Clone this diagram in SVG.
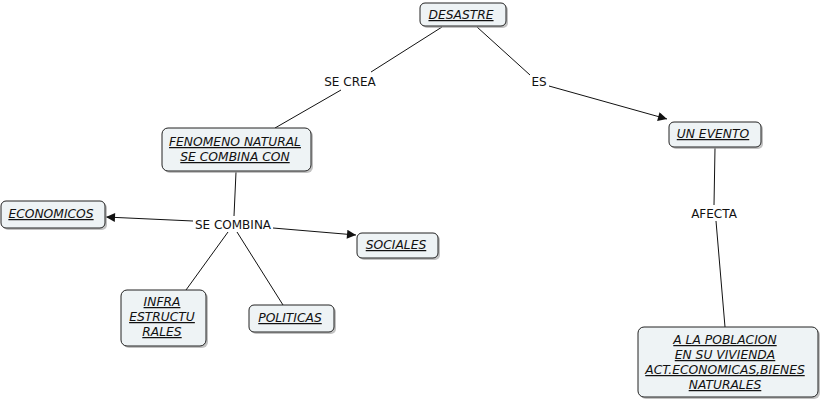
<svg xmlns="http://www.w3.org/2000/svg" width="821" height="400" viewBox="0 0 821 400">
<style>
.shadow{fill:#9a9a9a;opacity:0.6}
.box{fill:#eef3f5;stroke:#222;stroke-width:1}
.nt{font-family:"DejaVu Sans",Verdana,sans-serif;font-size:12.3px;font-style:italic;text-decoration:underline;fill:#111;text-anchor:middle}
.lt{font-family:"DejaVu Sans",Verdana,sans-serif;font-size:12px;fill:#111;text-anchor:middle}
.c{stroke:#111;stroke-width:1;fill:none}
</style>
<defs>
<marker id="ah" viewBox="0 0 10 10" refX="10" refY="5" markerWidth="11" markerHeight="9" markerUnits="userSpaceOnUse" orient="auto">
<path d="M0,0 L10,5 L0,10 z" fill="#111"/>
</marker>
</defs>
<rect width="821" height="400" fill="#fff"/>
<g id="connectors">
<line class="c" x1="442" y1="27" x2="371" y2="72"/>
<line class="c" x1="341" y1="90" x2="275" y2="128"/>
<line class="c" x1="477" y1="27" x2="530" y2="75"/>
<line class="c" x1="549" y1="86" x2="667" y2="119" marker-end="url(#ah)"/>
<line class="c" x1="715" y1="148" x2="714" y2="205"/>
<line class="c" x1="716" y1="221" x2="725" y2="327"/>
<line class="c" x1="236" y1="172" x2="234" y2="216"/>
<line class="c" x1="193" y1="221" x2="106" y2="217" marker-end="url(#ah)"/>
<line class="c" x1="273" y1="228" x2="356" y2="235" marker-end="url(#ah)"/>
<line class="c" x1="228" y1="232" x2="186" y2="290"/>
<line class="c" x1="237" y1="232" x2="283" y2="305"/>
<text class="lt" x="350" y="86">SE CREA</text>
<text class="lt" x="539" y="86">ES</text>
<text class="lt" x="714" y="218">AFECTA</text>
<text class="lt" x="233" y="229">SE COMBINA</text>
</g>
<g id="desastre">
<rect class="shadow" x="422" y="5" width="86" height="23" rx="5"/>
<rect class="box" x="420" y="3" width="86" height="23" rx="5"/>
<text class="nt" x="461" y="19">DESASTRE</text>
</g>
<g id="fenomeno">
<rect class="shadow" x="164" y="130" width="149" height="43" rx="6"/>
<rect class="box" x="162" y="128" width="149" height="43" rx="6"/>
<text class="nt" x="235" y="146">FENOMENO NATURAL</text>
<text class="nt" x="235" y="161">SE COMBINA CON</text>
</g>
<g id="unevento">
<rect class="shadow" x="671" y="124" width="92" height="25" rx="5"/>
<rect class="box" x="669" y="122" width="92" height="25" rx="5"/>
<text class="nt" x="713" y="138">UN EVENTO</text>
</g>
<g id="economicos">
<rect class="shadow" x="3" y="203" width="104" height="27" rx="5"/>
<rect class="box" x="1" y="201" width="104" height="27" rx="5"/>
<text class="nt" x="51" y="218">ECONOMICOS</text>
</g>
<g id="sociales">
<rect class="shadow" x="359" y="235" width="81" height="25" rx="5"/>
<rect class="box" x="357" y="233" width="81" height="25" rx="5"/>
<text class="nt" x="396" y="249">SOCIALES</text>
</g>
<g id="infra">
<rect class="shadow" x="123" y="292" width="85" height="56" rx="6"/>
<rect class="box" x="121" y="290" width="85" height="56" rx="6"/>
<text class="nt" x="162" y="306">INFRA</text>
<text class="nt" x="162" y="321">ESTRUCTU</text>
<text class="nt" x="162" y="336">RALES</text>
</g>
<g id="politicas">
<rect class="shadow" x="251" y="307" width="85" height="27" rx="5"/>
<rect class="box" x="249" y="305" width="85" height="27" rx="5"/>
<text class="nt" x="290" y="322">POLITICAS</text>
</g>
<g id="poblacion">
<rect class="shadow" x="640" y="329" width="180" height="70" rx="6"/>
<rect class="box" x="638" y="327" width="180" height="70" rx="6"/>
<text class="nt" x="725" y="344">A LA POBLACION</text>
<text class="nt" x="725" y="359">EN SU VIVIENDA</text>
<text class="nt" x="725" y="374">ACT.ECONOMICAS,BIENES</text>
<text class="nt" x="725" y="389">NATURALES</text>
</g>
</svg>
